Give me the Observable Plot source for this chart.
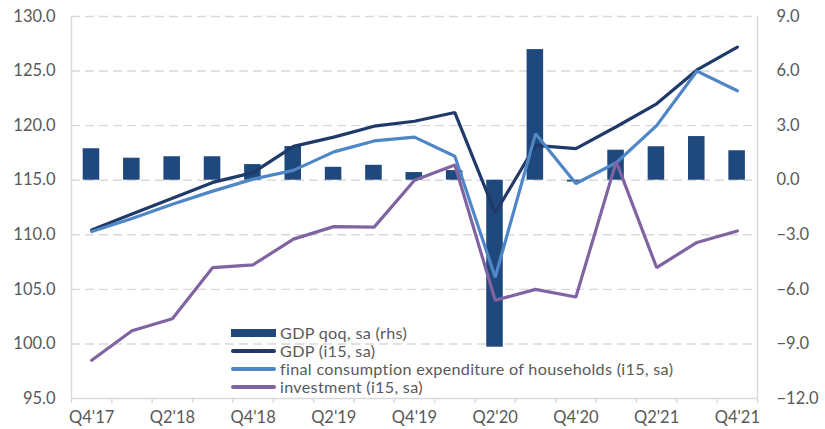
<!DOCTYPE html>
<html>
<head>
<meta charset="utf-8">
<script src="https://cdn.jsdelivr.net/npm/d3@7"></script>
<script src="https://cdn.jsdelivr.net/npm/@observablehq/plot@0.6"></script>
<style>
  html, body { margin: 0; padding: 0; background: #fff; }
  #wrap { position: relative; width: 825px; height: 429px; font-family: Lato, "Open Sans", sans-serif; }
  #legend { position: absolute; left: 231px; top: 323.5px; font-size: 16.2px; letter-spacing: 0.3px; color: #595959; line-height: 18.2px; }
  .row { display: flex; align-items: center; height: 18.2px; white-space: nowrap; }
  .sw { width: 45px; margin-right: 4px; display: inline-block; }
</style>
</head>
<body>
<div id="wrap"><div id="legend"></div></div>
<script>
const quarters = ["Q4'17","Q1'18","Q2'18","Q3'18","Q4'18","Q1'19","Q2'19","Q3'19","Q4'19","Q1'20","Q2'20","Q3'20","Q4'20","Q1'21","Q2'21","Q3'21","Q4'21"];
const gdpQoq = [1.73,1.21,1.29,1.29,0.86,1.85,0.71,0.82,0.42,0.53,-9.18,7.18,-0.1,1.65,1.84,2.40,1.62];
const gdpIdx = [110.45,111.9,113.35,114.8,115.7,118.1,118.95,119.95,120.4,121.2,112.0,118.2,117.9,119.9,122.0,125.1,127.2];
const consIdx = [110.3,111.5,112.8,114.0,115.1,115.9,117.6,118.6,118.95,117.2,106.1,119.25,114.7,116.6,120.0,125.0,123.2];
const invIdx = [98.5,101.2,102.3,107.0,107.25,109.6,110.75,110.7,115.0,116.4,104.0,105.0,104.3,116.7,107.0,109.3,110.35];
const leftTicks = [95,100,105,110,115,120,125,130];
const rightTicks = [-12,-9,-6,-3,0,3,6,9];
const xLabelEvery = 2;

const series = [
  {name: "GDP qoq, sa (rhs)", kind: "bar", color: "#1F497D"},
  {name: "GDP (i15, sa)", kind: "line", color: "#1F3A68", values: gdpIdx},
  {name: "final consumption expenditure of households (i15, sa)", kind: "line", color: "#4F86C6", values: consIdx},
  {name: "investment (i15, sa)", kind: "line", color: "#8064A2", values: invIdx}
];

// right axis (-12..9) mapped onto left axis (95..130)
const L = [95, 130], R = [-12, 9];
const toLeft = v => L[0] + (v - R[0]) * (L[1] - L[0]) / (R[1] - R[0]);
const toRight = v => R[0] + (v - L[0]) * (R[1] - R[0]) / (L[1] - L[0]);

const bars = quarters.map((q, i) => ({i, q, v: gdpQoq[i]}));
const lineRows = series.filter(s => s.kind === "line").flatMap(s => s.values.map((v, i) => ({i, v, name: s.name, color: s.color})));
const boundaries = d3.range(quarters.length + 1).map(i => i - 0.5);
const labelIdx = d3.range(0, quarters.length, xLabelEvery);
const grid = "#D9D9D9";

const chart = Plot.plot({
  width: 825,
  height: 429,
  marginLeft: 71,
  marginRight: 68,
  marginTop: 16,
  marginBottom: 31,
  style: {fontFamily: "Lato, 'Open Sans', sans-serif", fontSize: "16.5px", color: "#595959", background: "white"},
  x: {type: "linear", domain: [-0.5, quarters.length - 0.5], axis: null, label: null},
  y: {domain: L, axis: null, label: null},
  marks: [
    Plot.ruleY(leftTicks.slice(1), {y: d => d, stroke: grid, strokeWidth: 1.4, strokeDasharray: "9,5"}),
    Plot.ruleX([-0.5, quarters.length - 0.5], {x: d => d, stroke: grid, strokeWidth: 1.4}),
    Plot.ruleY([L[0]], {y: d => d, stroke: grid, strokeWidth: 1.4}),
    Plot.axisX({ticks: boundaries, tickSize: 5, tickFormat: () => "", stroke: grid, strokeWidth: 1.4, label: null}),
    Plot.axisX({ticks: labelIdx, tickSize: 0, tickPadding: 13, tickFormat: i => quarters[i], fill: "#595959", label: null}),
    Plot.axisY({ticks: leftTicks, tickSize: 0, tickPadding: 16, tickFormat: d3.format(".1f"), fill: "#595959", label: null}),
    Plot.axisY({anchor: "right", ticks: rightTicks.map(toLeft), tickSize: 0, tickPadding: 19,
      tickFormat: d => d3.format(".1f")(Math.round(toRight(d) * 10) / 10), fill: "#595959", label: null}),
    Plot.rectY(bars, {x1: d => d.i - 0.21, x2: d => d.i + 0.2, y1: toLeft(0), y2: d => toLeft(d.v), fill: series[0].color}),
    Plot.line(lineRows, {x: "i", y: "v", z: "name", stroke: "color", strokeWidth: 3.2, strokeLinejoin: "miter", strokeLinecap: "round"})
  ]
});
document.getElementById("wrap").prepend(chart);

const legend = document.getElementById("legend");
for (const s of series) {
  const row = document.createElement("div");
  row.className = "row";
  const sw = document.createElement("span");
  sw.className = "sw";
  sw.style.background = s.color;
  sw.style.height = s.kind === "bar" ? "8px" : "4px";
  if (s.kind === "line") sw.style.borderRadius = "2px";
  const t = document.createElement("span");
  t.textContent = s.name;
  row.append(sw, t);
  legend.append(row);
}
</script>
</body>
</html>
